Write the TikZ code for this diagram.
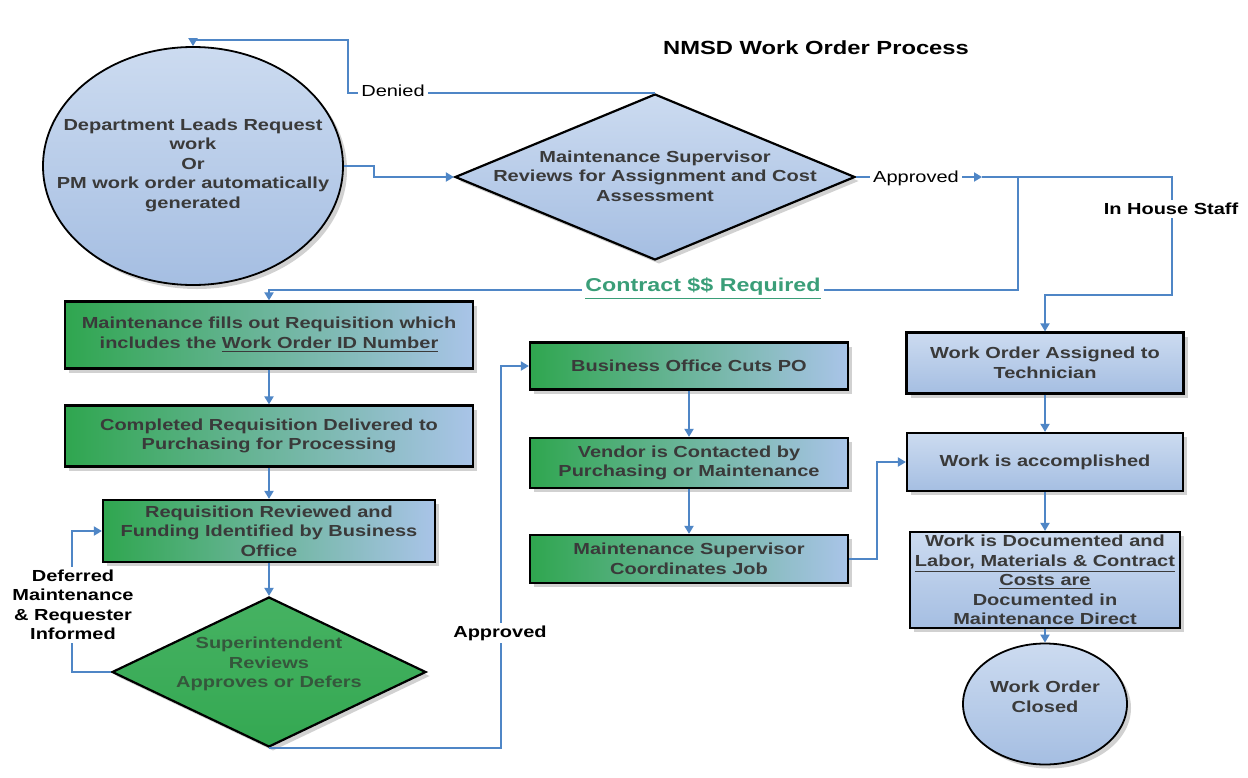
\documentclass[tikz,border=0pt]{standalone}
\usepackage{fontspec}
\setmainfont{Liberation Sans}[FakeStretch=1.25]
\usetikzlibrary{arrows.meta,shapes.geometric,shadows}
\definecolor{connblue}{HTML}{4F86C6}
\definecolor{boxtop}{HTML}{CCDBF0}
\definecolor{boxbot}{HTML}{A5BEE2}
\definecolor{gleft}{HTML}{2FA64F}
\definecolor{gright}{HTML}{A9C4E8}
\definecolor{gdia}{HTML}{34A852}
\definecolor{gdiatop}{HTML}{46B262}
\definecolor{txtgray}{HTML}{3A3A3A}
\definecolor{dtxt}{HTML}{35573C}
\definecolor{ctrgreen}{HTML}{3A9E78}
\begin{document}
\begin{tikzpicture}[x=0.5pt,y=-0.5pt,
  txt/.style={font=\fontsize{8}{9.75}\selectfont\bfseries, text=txtgray, align=center, inner sep=0pt},
  shad/.style={drop shadow={shadow xshift=2pt,shadow yshift=-2pt,fill=black,opacity=0.18}},
  bluebox/.style={draw=black, line width=1.1pt, top color=boxtop, bottom color=boxbot, shad,
    font=\fontsize{8}{9.75}\selectfont\bfseries, text=txtgray, align=center, inner sep=0pt},
  greenbox/.style={draw=black, line width=1.1pt, left color=gleft, right color=gright, shad,
    font=\fontsize{8}{9.75}\selectfont\bfseries, text=txtgray, align=center, inner sep=0pt},
  conn/.style={draw=connblue, line width=0.9pt, -{Triangle[length=4pt,width=4.5pt]}},
  lab/.style={fill=white, inner sep=1.5pt, font=\fontsize{8}{9.75}\selectfont\bfseries, text=black, align=center},
  labreg/.style={fill=white, inner sep=1.5pt, font=\fontsize{8}{9.75}\selectfont, text=black, align=center}
]
\useasboundingbox (0,0) rectangle (1248,777);
\fill[white] (0,0) rectangle (1248,777);

% title
\node[font=\fontsize{9.5}{11}\selectfont\bfseries, text=black] (title) at (816,48) {NMSD Work Order Process};

% start ellipse
\node[ellipse, draw=black, line width=0.9pt, top color=boxtop, bottom color=boxbot, shad,
  minimum width=150pt, minimum height=119pt, inner sep=0pt] (start) at (193,166) {};
\node[txt] (startt) at (193,165) {Department Leads Request\\work\\Or\\PM work order automatically\\generated};

% decision 1
\node[diamond, draw=black, line width=1.1pt, top color=boxtop, bottom color=boxbot, shad,
  minimum width=200pt, minimum height=83pt, inner sep=0pt] (d1) at (655,177) {};
\node[txt] (d1t) at (655,176) {Maintenance Supervisor\\Reviews for Assignment and Cost\\Assessment};

% left column
\node[greenbox, minimum width=204pt, minimum height=33.5pt] (b1) at (269,335)
  {Maintenance fills out Requisition which\\includes the \underline{Work Order ID Number}};
\node[greenbox, minimum width=204pt, minimum height=30.5pt] (b2) at (269,436)
  {Completed Requisition Delivered to\\Purchasing for Processing};
\node[greenbox, minimum width=166pt, minimum height=31pt] (b3) at (269,531)
  {Requisition Reviewed and\\Funding Identified by Business\\Office};
\node[diamond, draw=black, line width=1.1pt, top color=gdiatop, bottom color=gdia, shad,
  minimum width=157pt, minimum height=75pt, inner sep=0pt] (d2) at (269,672) {};
\node[txt, text=dtxt] (d2t) at (269,664) {Superintendent\\Reviews\\Approves or Defers};

% middle column
\node[greenbox, minimum width=159pt, minimum height=23.5pt] (bpo) at (689,366) {Business Office Cuts PO};
\node[greenbox, minimum width=159pt, minimum height=25pt] (bvendor) at (689,463)
  {Vendor is Contacted by\\Purchasing or Maintenance};
\node[greenbox, minimum width=159pt, minimum height=24pt] (bcoord) at (689,559)
  {Maintenance Supervisor\\Coordinates Job};

% right column
\node[bluebox, minimum width=138.5pt, minimum height=30.5pt] (bassign) at (1045,363)
  {Work Order Assigned to\\Technician};
\node[bluebox, minimum width=138pt, minimum height=29pt] (baccomp) at (1045,462) {Work is accomplished};
\node[bluebox, minimum width=135pt, minimum height=48pt] (bdoc) at (1045,580)
  {Work is Documented and\\\underline{Labor, Materials \& Contract}\\\underline{Costs are}\\Documented in\\Maintenance Direct};
\node[ellipse, draw=black, line width=0.9pt, top color=boxtop, bottom color=boxbot, shad,
  minimum width=82pt, minimum height=60.5pt, inner sep=0pt] (closed) at (1045,704) {};
\node[txt] (closedt) at (1045,697) {Work Order\\Closed};

% coordinates for connectors
\coordinate (denA) at (348,40);
\coordinate (apparr) at (982,177);
\coordinate (split) at (1018,177);
\coordinate (inh) at (1172,177);
\coordinate (inhb) at (1172,295);
\coordinate (ctr) at (1018,290);
\coordinate (defc) at (72,531);
\coordinate (appx) at (501,600);

% connectors
\draw[conn] (start.east) -- ++(30,0) |- (d1.west);
\draw[conn] (d1.north) -| (denA) -| (start.north);
\draw[conn] (d1.east) -- (apparr);
\draw[conn] (apparr) -- (inh) -- (inhb) -| (bassign.north);
\draw[conn] (split) -- (ctr) -| (b1.north);
\draw[conn] (b1.south) -- (b2.north);
\draw[conn] (b2.south) -- (b3.north);
\draw[conn] (b3.south) -- (d2.north);
\draw[conn] (d2.west) -| (defc) -- (b3.west);
\draw[conn] (d2.south) -| (appx) |- (bpo.west);
\draw[conn] (bpo.south) -- (bvendor.north);
\draw[conn] (bvendor.south) -- (bcoord.north);
\draw[conn] (bcoord.east) -- ++(28,0) |- (baccomp.west);
\draw[conn] (bassign.south) -- (baccomp.north);
\draw[conn] (baccomp.south) -- (bdoc.north);
\draw[conn] (bdoc.south) -- (closed.north);

% connector labels
\node[labreg] (lden) at (393,91) {Denied};
\node[labreg] (lapp) at (916,178) {Approved};
\node[lab] (linh) at (1171,209) {In House Staff};
\node[fill=white, inner sep=1.5pt, font=\fontsize{9.3}{11}\selectfont\bfseries, text=ctrgreen] (lctr) at (703,289) {\underline{Contract \$\$ Required}};
\node[lab] (ldef) at (73,605) {Deferred\\Maintenance\\\& Requester\\Informed};
\node[lab] (lapp2) at (500,633) {Approved};
\end{tikzpicture}
\end{document}
